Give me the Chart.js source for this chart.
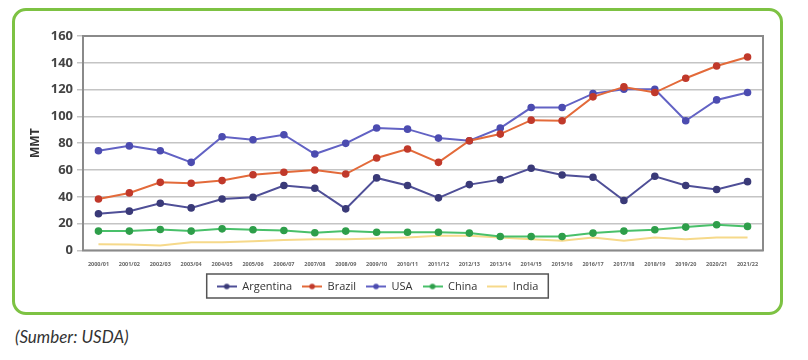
<!DOCTYPE html>
<html>
<head>
<meta charset="utf-8">
<title>Soybean production</title>
<script src="https://cdn.jsdelivr.net/npm/chart.js@4.4.1/dist/chart.umd.min.js"></script>
<style>
  body { margin: 0; background: #fff; font-family: "Open Sans", sans-serif; }
  #box {
    position: absolute; left: 12px; top: 8px; width: 765px; height: 301px;
    border: 3px solid #7dc243; border-radius: 14px; overflow: hidden;
  }
  #source {
    position: absolute; left: 15px; top: 326px;
    font-family: Lato, sans-serif; font-style: italic; font-size: 17px; color: #333;
  }
</style>
</head>
<body>
<div id="box"><canvas id="soyChart" width="765" height="301"></canvas></div>
<div id="source">(Sumber: USDA)</div>
<script>
// marketing years
const years = ['2000/01','2001/02','2002/03','2003/04','2004/05','2005/06','2006/07','2007/08',
  '2008/09','2009/10','2010/11','2011/12','2012/13','2013/14','2014/15','2015/16','2016/17',
  '2017/18','2018/19','2019/20','2020/21','2021/22'];

// production, MMT
const argentina = [27.3, 29.3, 35.2, 31.7, 38.4, 39.7, 48.4, 46.4, 31.0, 54.1, 48.4,
  39.2, 49.1, 52.8, 61.3, 56.3, 54.6, 37.2, 55.3, 48.4, 45.4, 51.3];
const brazil = [38.4, 42.9, 50.8, 50.1, 52.1, 56.5, 58.3, 60.0, 57.0, 69.0, 75.7,
  65.7, 81.8, 86.8, 97.2, 96.7, 114.6, 122.0, 117.8, 128.5, 137.6, 144.3];
const usa = [74.4, 78.0, 74.4, 65.7, 84.8, 82.6, 86.3, 71.9, 79.9, 91.3, 90.5,
  83.8, 81.8, 91.3, 106.6, 106.6, 117.0, 120.3, 120.3, 96.7, 112.3, 117.8];
const china = [14.4, 14.4, 15.6, 14.4, 16.1, 15.4, 14.9, 13.2, 14.4, 13.6, 13.6,
  13.6, 12.9, 10.4, 10.4, 10.4, 12.9, 14.4, 15.4, 17.4, 19.1, 17.9];
const india = [4.6, 4.4, 3.7, 6.0, 6.0, 6.8, 7.7, 8.4, 8.4, 8.9, 9.7,
  10.9, 10.9, 9.7, 8.4, 7.2, 9.7, 7.2, 9.7, 8.4, 9.7, 9.7];

const yTicks = [0, 20, 40, 60, 80, 100, 120, 140, 160];

// little line+dot icons for the legend
function legendIcon(line, dot, hasDot) {
  const c = document.createElement('canvas');
  c.width = 20; c.height = 8;
  const g = c.getContext('2d');
  g.strokeStyle = line; g.lineWidth = 2;
  g.beginPath(); g.moveTo(0, 4); g.lineTo(20, 4); g.stroke();
  if (hasDot) {
    g.fillStyle = dot;
    g.beginPath(); g.arc(10, 4, 2.8, 0, Math.PI * 2); g.fill();
  }
  return c;
}

function series(label, data, line, dot, hasDot) {
  return {
    label: label, data: data,
    borderColor: line, backgroundColor: dot,
    pointBackgroundColor: dot, pointBorderColor: dot,
    borderWidth: 2, pointRadius: hasDot ? 2.8 : 0, pointStyle: 'circle',
    icon: legendIcon(line, dot, hasDot), tension: 0
  };
}

// grey frame round the plot, a border round the legend, legend nudged left
const frames = {
  id: 'frames',
  afterLayout(chart) {
    const l = chart.legend;
    if (l) { l.left -= 18; l.right -= 18; }
  },
  beforeDatasetsDraw(chart) {
    const a = chart.chartArea, g = chart.ctx;
    g.save();
    g.strokeStyle = '#8a8a8a'; g.lineWidth = 2;
    g.strokeRect(a.left, a.top, a.right - a.left, a.bottom - a.top);
    g.restore();
  },
  afterDraw(chart) {
    const l = chart.legend, g = chart.ctx;
    if (!l || !l.legendHitBoxes.length) return;
    const hb = l.legendHitBoxes;
    const x0 = hb[0].left - 10, x1 = hb[hb.length - 1].left + hb[hb.length - 1].width + 10;
    const y0 = hb[0].top - 7, y1 = hb[0].top + hb[0].height + 6;
    g.save();
    g.strokeStyle = '#555'; g.lineWidth = 1.5;
    g.strokeRect(x0, y0, x1 - x0, y1 - y0);
    g.restore();
  }
};

new Chart(document.getElementById('soyChart').getContext('2d'), {
  type: 'line',
  data: {
    labels: years,
    datasets: [
      series('Argentina', argentina, '#4f4f97', '#3a3a78', true),
      series('Brazil', brazil, '#e36a3a', '#c0392b', true),
      series('USA', usa, '#6262c4', '#4c4cb0', true),
      series('China', china, '#49c06a', '#2e9e4a', true),
      series('India', india, '#f6d98a', '#f6d98a', false)
    ]
  },
  options: {
    responsive: false,
    animation: false,
    layout: { padding: { top: 25, right: 17, bottom: 10, left: 13 } },
    plugins: {
      legend: {
        position: 'bottom',
        labels: {
          usePointStyle: true, pointStyleWidth: 20, padding: 10,
          font: { size: 11, family: 'Open Sans' }, color: '#333',
          generateLabels(chart) {
            const items = Chart.defaults.plugins.legend.labels.generateLabels(chart);
            items.forEach(it => { it.pointStyle = chart.data.datasets[it.datasetIndex].icon; });
            return items;
          }
        }
      },
      tooltip: { enabled: false }
    },
    scales: {
      x: {
        offset: true,
        grid: { display: false },
        border: { display: false },
        ticks: { font: { size: 5.5, weight: 'bold', family: 'Open Sans' }, color: '#666', maxRotation: 0, autoSkip: false, padding: 3 }
      },
      y: {
        min: 0, max: 160,
        afterFit(scale) { scale.width = 55; },
        afterBuildTicks(scale) { scale.ticks = yTicks.map(v => ({ value: v })); },
        grid: { color: '#c4c4c4', lineWidth: 1.5, drawTicks: true, tickLength: 6 },
        border: { display: false },
        title: { display: true, text: 'MMT', font: { size: 12, weight: 'bold', family: 'Open Sans' }, color: '#333', padding: 0 },
        ticks: { font: { size: 13, weight: 'bold', family: 'Open Sans' }, color: '#444', padding: 4 }
      }
    }
  },
  plugins: [frames]
});
</script>
</body>
</html>
